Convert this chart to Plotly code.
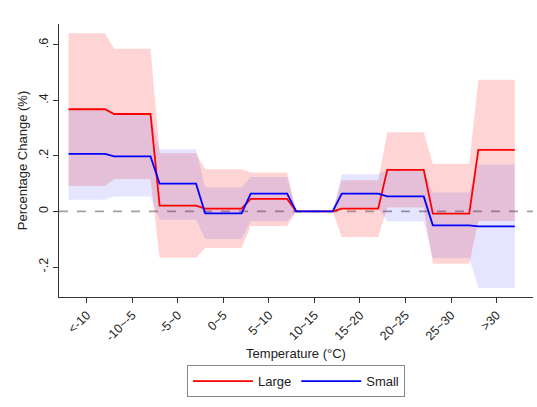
import numpy as np
import plotly.graph_objects as go

bins = ["<-10", "-10~-5", "-5~0", "0~5", "5~10", "10~15", "15~20", "20~25", "25~30", ">30"]

large = [0.368, 0.351, 0.021, 0.010, 0.045, 0.0, 0.010, 0.150, -0.008, 0.222]
large_hi = [0.642, 0.586, 0.210, 0.152, 0.140, 0.0, 0.112, 0.285, 0.172, 0.474]
large_lo = [0.092, 0.117, -0.167, -0.132, -0.052, 0.0, -0.092, 0.014, -0.188, -0.034]

small = [0.2075, 0.198, 0.100, -0.007, 0.064, 0.0, 0.064, 0.054, -0.050, -0.054]
small_hi = [0.372, 0.348, 0.224, 0.086, 0.124, 0.0, 0.134, 0.150, 0.068, 0.169]
small_lo = [0.042, 0.054, -0.030, -0.099, -0.035, 0.0, 0.012, -0.036, -0.168, -0.276]

per_bin = 5
x = np.arange(len(bins) * per_bin)
tickpos = np.arange(len(bins)) * per_bin + (per_bin - 1) / 2


def rep(v):
    return np.repeat(np.array(v, dtype=float), per_bin)


fig = go.Figure()

# confidence bands
for lo, hi, col in [(large_lo, large_hi, "rgba(255,0,0,0.17)"),
                    (small_lo, small_hi, "rgba(0,0,255,0.10)")]:
    fig.add_trace(go.Scatter(x=x, y=rep(lo), mode="lines", line=dict(width=0),
                             showlegend=False, hoverinfo="skip"))
    fig.add_trace(go.Scatter(x=x, y=rep(hi), mode="lines", line=dict(width=0),
                             fill="tonexty", fillcolor=col, showlegend=False,
                             hoverinfo="skip"))

fig.add_trace(go.Scatter(x=x, y=rep(large), mode="lines", name="Large",
                         line=dict(color="#ff0000", width=1.8)))
fig.add_trace(go.Scatter(x=x, y=rep(small), mode="lines", name="Small",
                         line=dict(color="#0000ff", width=1.8)))

fig.add_shape(type="line", xref="paper", x0=0, x1=1, yref="y", y0=0, y1=0,
              line=dict(color="#a0a0a0", width=1.8, dash="dash"), layer="below")

font_family = "Liberation Sans, Arial, sans-serif"

fig.update_layout(
    width=537, height=407,
    margin=dict(l=59, r=4, t=24, b=110),
    paper_bgcolor="white", plot_bgcolor="white",
    font=dict(family=font_family, size=12, color="#222222"),
    xaxis=dict(
        range=[-1.05, 51.0],
        tickmode="array", tickvals=tickpos, ticktext=bins,
        tickangle=-45, ticks="outside", ticklen=5, tickcolor="#333333",
        showline=True, linecolor="#333333", linewidth=1,
        showgrid=False, zeroline=False,
        tickfont=dict(size=12.5),
        title=dict(text="Temperature (°C)", font=dict(size=13), standoff=5),
    ),
    yaxis=dict(
        range=[-0.308, 0.675],
        tickmode="array", tickvals=[-0.2, 0, 0.2, 0.4, 0.6],
        ticktext=["-.2", "0", ".2", ".4", ".6"],
        tickangle=-90, ticks="outside", ticklen=5, tickcolor="#333333",
        showline=True, linecolor="#333333", linewidth=1,
        showgrid=False, zeroline=False,
        tickfont=dict(size=12.5),
        title=dict(text="Percentage Change (%)", font=dict(size=13), standoff=6),
    ),
    legend=dict(
        orientation="h", x=0.5, xanchor="center", y=-0.25, yanchor="top",
        traceorder="normal",
        bordercolor="#888888", borderwidth=1, font=dict(size=13),
        itemwidth=60,
    ),
)

fig.write_html("out.html")
